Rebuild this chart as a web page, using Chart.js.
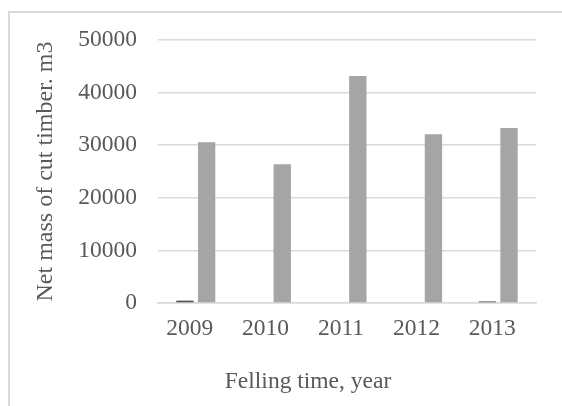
<!DOCTYPE html>
<html>
<head>
<meta charset="utf-8">
<script src="https://cdn.jsdelivr.net/npm/chart.js@4"></script>
<style>
  html, body { margin: 0; padding: 0; background: #fff; overflow: hidden; }
  #frame {
    position: absolute; left: 8px; top: 11px; width: 700px; height: 500px;
    border-left: 2px solid #d9d9d9; border-top: 2px solid #d9d9d9;
  }
  #wrap { position: absolute; left: 0; top: 0; width: 562px; height: 406px; }
</style>
</head>
<body>
<div id="frame"></div>
<div id="wrap"><canvas id="chart"></canvas></div>
<script>
// chart data
var years = ['2009', '2010', '2011', '2012', '2013'];
var smallSeries = [450, 0, 0, 0, 300];
var massSeries = [30550, 26400, 43150, 32100, 33250];
var yTicks = [0, 10000, 20000, 30000, 40000, 50000];

var textColor = '#595959';
var fontFamily = '"Liberation Serif", "Times New Roman", serif';

// x axis title is offset to the left in the original, so draw it by hand
var xTitlePlugin = {
  id: 'xTitle',
  afterDraw: function(chart) {
    var ctx = chart.ctx;
    ctx.save();
    ctx.font = '23.5px ' + fontFamily;
    ctx.fillStyle = textColor;
    ctx.textAlign = 'center';
    ctx.textBaseline = 'middle';
    ctx.fillText('Felling time, year', 308, 382);
    ctx.restore();
  }
};

var ctx = document.getElementById('chart').getContext('2d');
new Chart(ctx, {
  type: 'bar',
  data: {
    labels: years,
    datasets: [
      {
        label: 'Series 1',
        data: smallSeries,
        backgroundColor: '#505050',
        categoryPercentage: 0.573,
        barPercentage: 0.8
      },
      {
        label: 'Net mass',
        data: massSeries,
        backgroundColor: '#a5a5a5',
        categoryPercentage: 0.573,
        barPercentage: 0.8
      }
    ]
  },
  options: {
    responsive: true,
    maintainAspectRatio: false,
    animation: false,
    layout: { padding: { left: 0, top: 40, right: 26, bottom: 0 } },
    plugins: {
      legend: { display: false },
      tooltip: { enabled: false }
    },
    scales: {
      x: {
        grid: { display: false, drawTicks: false },
        border: { display: true, color: '#d9d9d9', width: 1.5 },
        ticks: {
          color: textColor,
          font: { family: fontFamily, size: 23.5 },
          padding: 12,
          labelOffset: -6,
          maxRotation: 0
        },
        afterFit: function(scale) { scale.height = 103; }
      },
      y: {
        min: 0,
        max: 50000,
        afterBuildTicks: function(scale) {
          scale.ticks = yTicks.map(function(v) { return { value: v }; });
        },
        grid: { color: '#d9d9d9', lineWidth: 1.5, drawTicks: false },
        border: { display: false },
        ticks: {
          color: textColor,
          font: { family: fontFamily, size: 23.5 },
          padding: 21,
          callback: function(value) { return String(value); }
        },
        title: {
          display: true,
          text: 'Net mass of cut timber. m3',
          color: textColor,
          font: { family: fontFamily, size: 24 },
          padding: { top: 31, bottom: 0 }
        },
        afterFit: function(scale) { scale.width = 158; }
      }
    }
  },
  plugins: [xTitlePlugin]
});
</script>
</body>
</html>
